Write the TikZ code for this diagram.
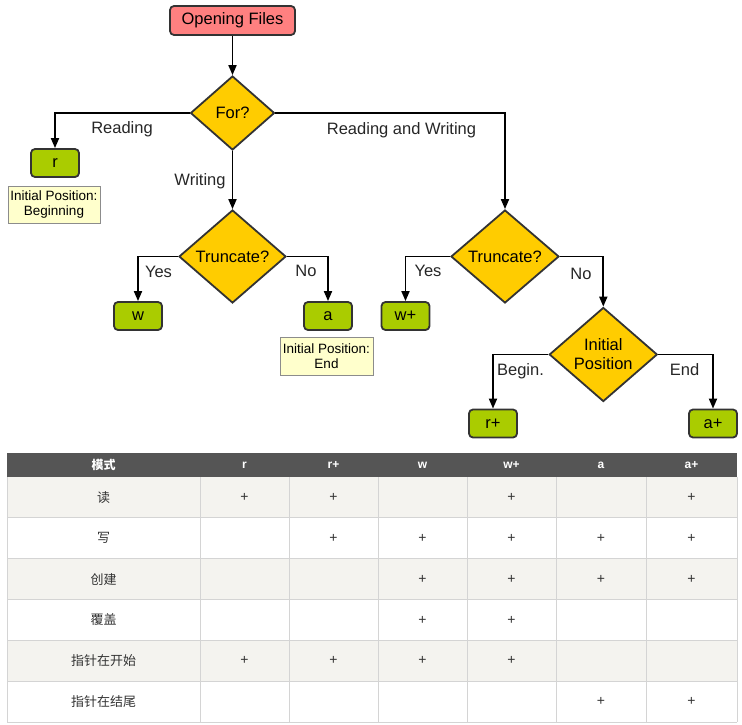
\documentclass[tikz,border=0pt]{standalone}
\usepackage{fontspec}
\setmainfont{Liberation Sans}
\newfontfamily\cjk{Noto Sans CJK SC}
\usetikzlibrary{shapes.geometric,arrows.meta}

\definecolor{startred}{RGB}{255,128,128}
\definecolor{modegreen}{RGB}{170,204,0}
\definecolor{askyellow}{RGB}{255,204,0}
\definecolor{notecream}{RGB}{255,255,204}
\definecolor{headgray}{RGB}{85,85,85}
\definecolor{rowtint}{RGB}{244,243,239}
\definecolor{gridgray}{RGB}{212,212,212}
\definecolor{celltext}{RGB}{51,51,51}

\begin{document}
\begin{tikzpicture}[x=1pt, y=-1pt, line width=1.8pt,
    every node/.style={font=\fontsize{16.5}{19}\selectfont, inner sep=0pt},
    startbox/.style={draw=black!80, fill=startred, rounded corners=4pt, minimum width=125pt, minimum height=29pt},
    modebox/.style={draw=black!80, fill=modegreen, rounded corners=4pt, minimum width=48pt, minimum height=28pt},
    ask/.style={diamond, draw=black!80, fill=askyellow, align=center},
    note/.style={draw=black!45, line width=0.8pt, fill=notecream, align=center, minimum width=92pt, minimum height=37pt, font=\fontsize{13.5}{15}\selectfont},
    flow/.style={-{Triangle[length=10pt,width=8pt]}, black},
    choice/.style={anchor=base, text=black!85},
    grid/.style={gridgray, line width=1pt},
    headtext/.style={text=white, font=\fontsize{12}{14}\selectfont\bfseries},
    celltxt/.style={text=celltext, font=\fontsize{14}{16}\selectfont}]
    \useasboundingbox (0,0) rectangle (742,725);
    \node[startbox] (open) at (232.5,20.5) {Opening Files};
    \node[ask, minimum width=84pt, minimum height=74pt] (for) at (232.5,113) {For?};
    \node[modebox] (r) at (55,163) {r};
    \node[note] (rnote) at (54,204.5) {Initial Position:\\Beginning};
    \node[ask, minimum width=107pt, minimum height=93pt] (trunc) at (232.5,256.5) {Truncate?};
    \node[modebox] (w) at (138,316) {w};
    \node[modebox] (a) at (328,316) {a};
    \node[note, minimum width=93pt, minimum height=38pt] (anote) at (326.5,356) {Initial Position:\\End};
    \node[ask, minimum width=108pt, minimum height=93pt] (truncplus) at (505,256.5) {Truncate?};
    \node[modebox] (wplus) at (405.5,316) {w+};
    \node[ask, minimum width=108pt, minimum height=94pt] (initpos) at (603.3,354.5) {Initial\\Position};
    \node[modebox] (rplus) at (493,423.5) {r+};
    \node[modebox] (aplus) at (713,423.5) {a+};

    \draw[flow] (open) -- (for);
    \draw[flow] (for.west) -| (r.north);
    \draw[flow] (for.south) -- (trunc.north);
    \draw[flow] (for.east) -| (truncplus.north);
    \draw[flow] (trunc.west) -| (w.north);
    \draw[flow] (trunc.east) -| (a.north);
    \draw[flow] (truncplus.west) -| (wplus.north);
    \draw[flow] (truncplus.east) -| (initpos.north);
    \draw[flow] (initpos.west) -| (rplus.north);
    \draw[flow] (initpos.east) -| (aplus.north);

    \node[choice] (reading) at (122,133) {Reading};
    \node[choice] (writing) at (200,185) {Writing};
    \node[choice] (both) at (401.5,135) {Reading and Writing};
    \node[choice] (yes) at (158.5,277) {Yes};
    \node[choice] (no) at (306,276) {No};
    \node[choice] (yesplus) at (428,276) {Yes};
    \node[choice] (noplus) at (581,279) {No};
    \node[choice] (atbegin) at (520.5,375) {Begin.};
    \node[choice] (atend) at (684.5,375) {End};

    \fill[headgray] (7,453) rectangle (737,477);
    \foreach \i in {1,3,5}
        \fill[rowtint] (7,{477+40.85*(\i-1)}) rectangle (737,{477+40.85*\i});
    \foreach \i in {1,...,6}
        \draw[grid] (7,{477+40.85*\i}) -- (737,{477+40.85*\i});
    \foreach \x in {7,200,289,378,467,556,646,737}
        \draw[grid] (\x,477) -- (\x,722.1);
    \foreach \x/\t [count=\k] in {103.5/\cjk 模式, 244.5/r, 333.5/r+, 422.5/w, 511.5/w+, 601/a, 691.5/a+}
        \node[headtext] (head-\k) at (\x,465) {\t};
    \foreach \t [count=\k] in {读, 写, 创建, 覆盖, 指针在开始, 指针在结尾}
        \node[celltxt, font=\cjk\fontsize{13}{15}\selectfont] (mode-\k) at (103.5,{477+40.85*(\k-0.5)}) {\t};
    \foreach \k/\cols in {1/{2,3,5,7}, 2/{3,4,5,6,7}, 3/{4,5,6,7}, 4/{4,5}, 5/{2,3,4,5}, 6/{6,7}}
        \foreach \c in \cols
            \node[celltxt] (mark-\k-\c) at (head-\c |- mode-\k) {+};
\end{tikzpicture}
\end{document}
